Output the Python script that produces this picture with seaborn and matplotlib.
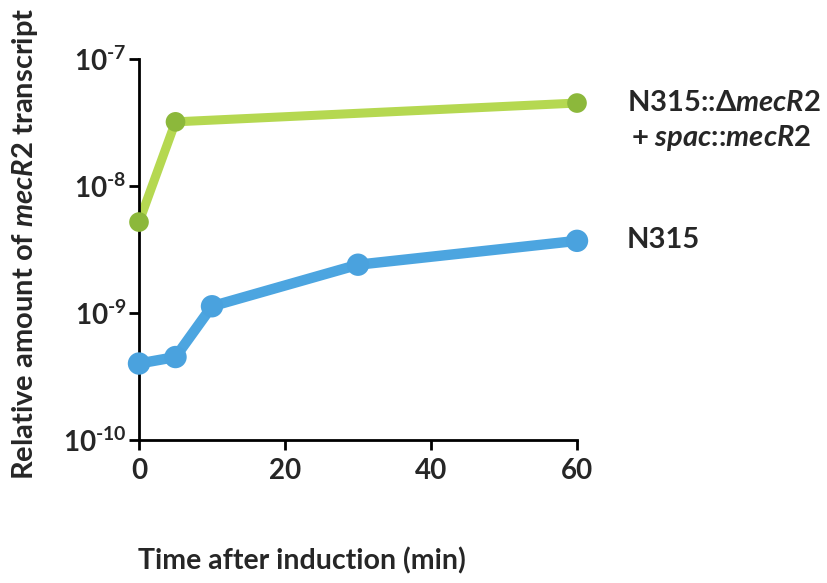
import numpy as np
import pandas as pd
import matplotlib
matplotlib.use("Agg")
import matplotlib.pyplot as plt
import seaborn as sns

# values (log scale)
time_green = [0, 5, 60]
mecr2_green = [5.2e-9, 3.2e-8, 4.5e-8]
time_blue = [0, 5, 10, 30, 60]
mecr2_blue = [4.0e-10, 4.5e-10, 1.13e-9, 2.4e-9, 3.7e-9]

y_ticks = [1e-10, 1e-9, 1e-8, 1e-7]
y_ticklabels = [r"10$^{\text{-10}}$", r"10$^{\text{-9}}$", r"10$^{\text{-8}}$", r"10$^{\text{-7}}$"]
x_ticks = [0, 20, 40, 60]

green_line = "#b5d851"
green_dot = "#8cb83b"
blue_line = "#4ca5e0"
blue_dot = "#4aa2de"

df_green = pd.DataFrame({"time": time_green, "amount": mecr2_green})
df_blue = pd.DataFrame({"time": time_blue, "amount": mecr2_blue})

sns.set_style("ticks")
plt.rcParams["font.family"] = ["Lato", "DejaVu Sans"]
plt.rcParams["font.weight"] = "bold"
plt.rcParams["mathtext.fontset"] = "custom"
plt.rcParams["mathtext.rm"] = "Lato:bold"
plt.rcParams["mathtext.bf"] = "Lato:bold"
plt.rcParams["mathtext.it"] = "Lato:bold:italic"

fig = plt.figure(figsize=(8.28, 5.83), dpi=100)
ax = fig.add_axes([139 / 828, 1 - 440 / 583, (577 - 139) / 828, (440 - 59) / 583])

sns.lineplot(data=df_green, x="time", y="amount", color=green_line, lw=6.5, ax=ax,
             solid_capstyle="round", clip_on=False)
sns.scatterplot(data=df_green, x="time", y="amount", color=green_dot, s=200,
                edgecolor="none", ax=ax, clip_on=False, zorder=3)
sns.lineplot(data=df_blue, x="time", y="amount", color=blue_line, lw=7.5, ax=ax,
             solid_capstyle="round", clip_on=False)
sns.scatterplot(data=df_blue, x="time", y="amount", color=blue_dot, s=260,
                edgecolor="none", ax=ax, clip_on=False, zorder=3)

ax.set_yscale("log")
ax.set_ylim(1e-10, 1e-7)
ax.set_xlim(0, 60)
ax.set_yticks(y_ticks)
ax.set_yticklabels(y_ticklabels)
ax.minorticks_off()
ax.set_xticks(x_ticks)
ax.tick_params(axis="both", labelsize=20, width=2, length=7, color="black",
               direction="out")
ax.tick_params(axis="y", pad=2)
ax.tick_params(axis="x", pad=6)
for lab in ax.get_xticklabels() + ax.get_yticklabels():
    lab.set_fontweight("bold")
sns.despine(ax=ax)
for sp in ["left", "bottom"]:
    ax.spines[sp].set_linewidth(2)
    ax.spines[sp].set_color("black")
ax.set_xlabel("")
ax.set_ylabel("")

fig.text(302 / 828, 1 - 561 / 583, "Time after induction (min)", ha="center",
         va="center", fontsize=20.5, fontweight="bold")
fig.text(25 / 828, 1 - 244 / 583, r"Relative amount of $\mathit{mecR2}$ transcript",
         rotation=90, ha="center", va="center", fontsize=21, fontweight="bold")

fig.text(627 / 828, 1 - 103 / 583, r"N315::Δ$\mathit{mecR2}$", ha="left",
         va="center", fontsize=21, fontweight="bold")
fig.text(631 / 828, 1 - 138 / 583, r"+ $\mathit{spac}$::$\mathit{mecR2}$", ha="left",
         va="center", fontsize=21, fontweight="bold")
fig.text(627 / 828, 1 - 240 / 583, "N315", ha="left", va="center",
         fontsize=21, fontweight="bold")

fig.savefig("out.png", dpi=100)
